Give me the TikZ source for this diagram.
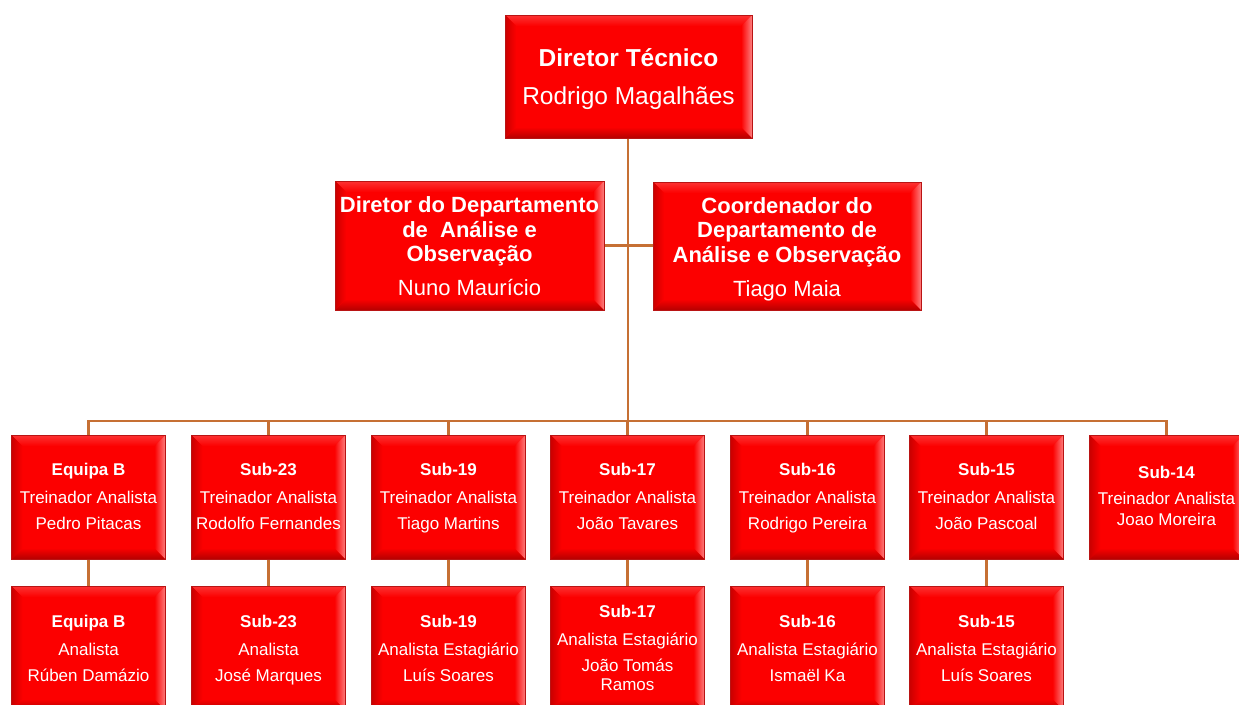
\documentclass[tikz,border=0pt]{standalone}
\usepackage{fontspec}
\setmainfont{Liberation Sans}
\definecolor{boxred}{RGB}{252,0,0}
\definecolor{boxedge}{RGB}{185,20,20}
\definecolor{linkc}{RGB}{198,112,52}
\newcommand{\highstrut}[1]{\rule{0pt}{#1}}
\tikzset{
  bevel/.style={path picture={
    \path (path picture bounding box.north west) coordinate (pA)
          (path picture bounding box.north east) coordinate (pB)
          (path picture bounding box.south east) coordinate (pC)
          (path picture bounding box.south west) coordinate (pD);
    \path ([xshift=11pt,yshift=-11pt]pA) coordinate (iA)
          ([xshift=-11pt,yshift=-11pt]pB) coordinate (iB)
          ([xshift=-11pt,yshift=11pt]pC) coordinate (iC)
          ([xshift=11pt,yshift=11pt]pD) coordinate (iD);
    \shade[top color=boxred!80!white, bottom color=boxred] (pA)--(pB)--(iB)--(iA)--cycle;
    \shade[top color=boxred, bottom color=boxred!72!black] (pD)--(pC)--(iC)--(iD)--cycle;
    \shade[left color=boxred!80!black, middle color=boxred!55!white, right color=boxred] (pA)--(iA)--(iD)--(pD)--cycle;
    \shade[left color=boxred, middle color=boxred!85!white, right color=boxred!50!white] (pB)--(iB)--(iC)--(pC)--cycle;
  }},
  orgbox/.style={rectangle, draw=boxedge, line width=0.8pt, fill=boxred, text=white,
    align=center, inner sep=0pt, bevel},
  topbox/.style={orgbox, minimum width=247pt, minimum height=123pt, font=\fontsize{24.5}{29}\selectfont},
  midbox/.style={orgbox, minimum width=269pt, minimum height=129pt, font=\fontsize{22}{24.5}\selectfont},
  rowbox/.style={orgbox, minimum width=154pt, minimum height=124pt, font=\fontsize{17}{26}\selectfont},
  link/.style={draw=linkc, line width=2.6pt}
}
\begin{document}
\begin{tikzpicture}[x=1pt,y=-1pt]
\clip (0,0) rectangle (1239,704);
\fill[white] (0,0) rectangle (1239,704);

% connectors first
\coordinate (bus) at (628,421);
\coordinate (topS) at (628,138);
\draw[link] (topS) -- (bus);
\draw[link] (604,245.5) coordinate (dL) -- (653,245.5) coordinate (dR);
\foreach \x/\n in {88.5/a,268.5/b,448.5/c,627.5/d,807.5/e,986.5/f,1166.5/g}{
  \coordinate (t\n) at (\x,435);
  \draw[link] (bus) -| (t\n);
}
\foreach \x/\n in {88.5/a,268.5/b,448.5/c,627.5/d,807.5/e,986.5/f}{
  \coordinate (u\n) at (\x,559);
  \coordinate (v\n) at (\x,586);
  \draw[link] (u\n) -- (v\n);
}

% boxes
\node[topbox] (dt) at (628.5,76.5) {\highstrut{27.5pt}{\bfseries Diretor Técnico}\\[9pt]Rodrigo Magalhães\strut};
\node[midbox] (dd) at (469.5,245.5) {\highstrut{25.2pt}\bfseries Diretor do Departamento\\\bfseries de\ \ Análise e\\\bfseries Observação\\[9.5pt]Nuno Maurício\strut};
\node[midbox, minimum width=268pt, minimum height=128pt] (cd) at (787,246) {\highstrut{25.2pt}\bfseries Coordenador do\\\bfseries Departamento de\\\bfseries Análise e Observação\\[9.5pt]Tiago Maia\strut};

\node[rowbox] (r1a) at (88.5,497) {\strut{\bfseries Equipa B}\\[2pt]Treinador Analista\\Pedro Pitacas\strut};
\node[rowbox] (r1b) at (268.5,497) {\strut{\bfseries Sub-23}\\[2pt]Treinador Analista\\Rodolfo Fernandes\strut};
\node[rowbox] (r1c) at (448.5,497) {\strut{\bfseries Sub-19}\\[2pt]Treinador Analista\\Tiago Martins\strut};
\node[rowbox] (r1d) at (627.5,497) {\strut{\bfseries Sub-17}\\[2pt]Treinador Analista\\João Tavares\strut};
\node[rowbox] (r1e) at (807.5,497) {\strut{\bfseries Sub-16}\\[2pt]Treinador Analista\\Rodrigo Pereira\strut};
\node[rowbox] (r1f) at (986.5,497) {\strut{\bfseries Sub-15}\\[2pt]Treinador Analista\\João Pascoal\strut};
\node[rowbox] (r1g) at (1166.5,497) {\strut{\bfseries Sub-14}\\Treinador Analista\\[-5pt]Joao Moreira\strut};

\node[rowbox] (r2a) at (88.5,648) {\highstrut{20.2pt}{\bfseries Equipa B}\\[2pt]Analista\\Rúben Damázio\strut};
\node[rowbox] (r2b) at (268.5,648) {\highstrut{20.2pt}{\bfseries Sub-23}\\[2pt]Analista\\José Marques\strut};
\node[rowbox] (r2c) at (448.5,648) {\highstrut{20.2pt}{\bfseries Sub-19}\\[2pt]Analista Estagiário\\Luís Soares\strut};
\node[rowbox] (r2d) at (627.5,648) {\highstrut{20.2pt}{\bfseries Sub-17}\\[2pt]Analista Estagiário\\João Tomás\\[-7pt]Ramos\strut};
\node[rowbox] (r2e) at (807.5,648) {\highstrut{20.2pt}{\bfseries Sub-16}\\[2pt]Analista Estagiário\\Ismaël Ka\strut};
\node[rowbox] (r2f) at (986.5,648) {\highstrut{20.2pt}{\bfseries Sub-15}\\[2pt]Analista Estagiário\\Luís Soares\strut};
\end{tikzpicture}
\end{document}
